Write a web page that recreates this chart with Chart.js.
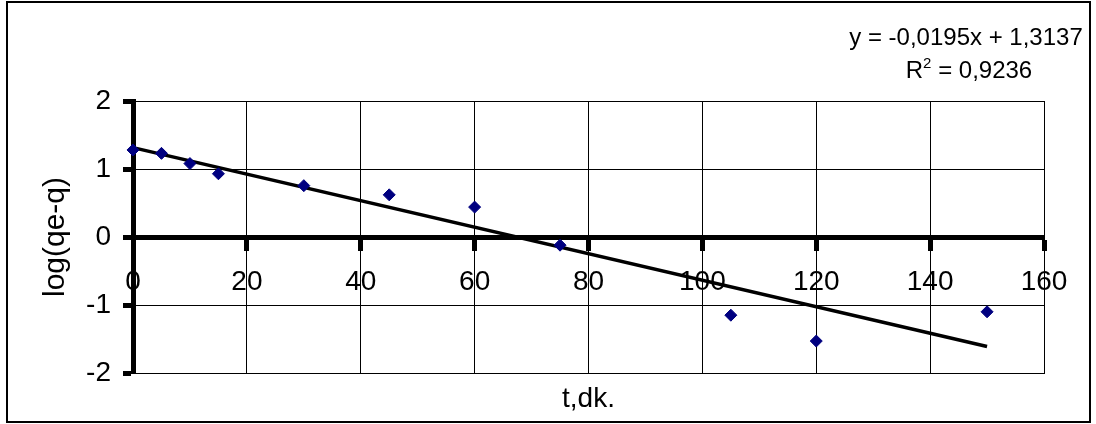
<!DOCTYPE html>
<html>
<head>
<meta charset="utf-8">
<script src="https://cdn.jsdelivr.net/npm/chart.js@4/dist/chart.umd.min.js"></script>
<style>
  html, body { margin: 0; padding: 0; background: #fff; }
  canvas { display: block; }
</style>
</head>
<body>
<canvas id="c" width="1096" height="424"></canvas>
<script>
// Sampling times (minutes) and measured log(qe - q)
const timeMinutes = [0, 5, 10, 15, 30, 45, 60, 75, 105, 120, 150];
const logQeQ = [1.28, 1.23, 1.08, 0.93, 0.755, 0.62, 0.44, -0.12, -1.15, -1.53, -1.10];

// Linear trendline coefficients and fit quality
const trendSlope = -0.0195;
const trendIntercept = 1.3137;
const rSquared = 0.9236;

// Axis tick values
const xTicks = [0, 20, 40, 60, 80, 100, 120, 140, 160];
const yTicks = [-2, -1, 0, 1, 2];

const FONT = "'Liberation Sans', Arial, sans-serif";
Chart.defaults.font.family = FONT;
Chart.defaults.color = '#000';

const points = timeMinutes.map((t, i) => ({ x: t, y: logQeQ[i] }));
const tStart = timeMinutes[0];
const tEnd = timeMinutes[timeMinutes.length - 1];
const trendPoints = [
  { x: tStart, y: trendSlope * tStart + trendIntercept },
  { x: tEnd, y: trendSlope * tEnd + trendIntercept }
];

const fmt = v => v.toFixed(4).replace('.', ',');
const eqText = 'y = ' + fmt(trendSlope) + 'x + ' + fmt(trendIntercept);
const r2Value = ' = ' + fmt(rSquared);

const setTicks = list => scale => { scale.ticks = list.map(v => ({ value: v })); };

// White page, outer frame and the trendline equation
const frameAndLabel = {
  id: 'frameAndLabel',
  beforeDraw(chart) {
    const c = chart.ctx;
    c.save();
    c.fillStyle = '#fff';
    c.fillRect(0, 0, chart.width, chart.height);
    c.restore();
  },
  afterDraw(chart) {
    const c = chart.ctx;
    c.save();
    c.strokeStyle = '#000';
    c.lineWidth = 2;
    c.strokeRect(7, 2, 1083, 420);

    c.fillStyle = '#000';
    c.textBaseline = 'alphabetic';
    c.textAlign = 'left';
    c.font = '24px ' + FONT;
    const w1 = c.measureText(eqText).width;
    c.fillText(eqText, 966 - w1 / 2, 45);

    // R² line
    const big = '24px ' + FONT, small = '15px ' + FONT;
    c.font = big;
    const wR = c.measureText('R').width;
    const wV = c.measureText(r2Value).width;
    c.font = small;
    const wS = c.measureText('2').width;
    const total = wR + wS + wV;
    let x = 969 - total / 2;
    c.font = big;
    c.fillText('R', x, 78);
    x += wR;
    c.font = small;
    c.fillText('2', x, 68);
    x += wS;
    c.font = big;
    c.fillText(r2Value, x, 78);
    c.restore();
  }
};

new Chart(document.getElementById('c'), {
  type: 'scatter',
  data: {
    datasets: [
      {
        label: 'trend',
        type: 'line',
        data: trendPoints,
        borderColor: '#000',
        borderWidth: 3.5,
        pointRadius: 0,
        fill: false,
        clip: false,
        order: 1
      },
      {
        label: 'log(qe-q)',
        data: points,
        pointStyle: 'rectRot',
        pointRadius: 6,
        pointBackgroundColor: '#000080',
        pointBorderColor: '#000080',
        pointBorderWidth: 1,
        clip: false,
        order: 0
      }
    ]
  },
  options: {
    responsive: false,
    animation: false,
    devicePixelRatio: 1,
    layout: { padding: { top: 101, right: 52, left: 0, bottom: 0 } },
    plugins: { legend: { display: false }, tooltip: { enabled: false } },
    scales: {
      x: {
        type: 'linear',
        position: 'bottom',
        min: 0, max: 160,
        afterBuildTicks: setTicks(xTicks),
        grid: { color: '#000', lineWidth: 1, drawTicks: false },
        border: { display: true, color: '#000', width: 1 },
        ticks: { display: false },
        title: { display: true, text: 't,dk.', font: { size: 28 }, padding: { top: 0, bottom: 8 } },
        afterFit: s => { s.height = 51; }
      },
      xa: {
        type: 'linear',
        axis: 'x',
        position: { y: 0 },
        min: 0, max: 160,
        afterBuildTicks: setTicks(xTicks),
        grid: { drawOnChartArea: false, drawTicks: true, tickLength: 11, tickWidth: 5, tickColor: '#000' },
        border: { display: true, color: '#000', width: 5 },
        ticks: { font: { size: 28 }, padding: 17, maxRotation: 0, autoSkip: false }
      },
      y: {
        type: 'linear',
        position: 'left',
        min: -2, max: 2,
        afterBuildTicks: setTicks(yTicks),
        grid: { color: '#000', lineWidth: 1, tickLength: 10, tickWidth: 5, tickColor: '#000' },
        border: { display: true, color: '#000', width: 5 },
        ticks: { font: { size: 28 }, padding: 12 },
        title: { display: true, text: 'log(qe-q)', font: { size: 30 }, padding: { top: 38, bottom: 0 } },
        afterFit: s => { s.width = 133; }
      }
    }
  },
  plugins: [frameAndLabel]
});
</script>
</body>
</html>
